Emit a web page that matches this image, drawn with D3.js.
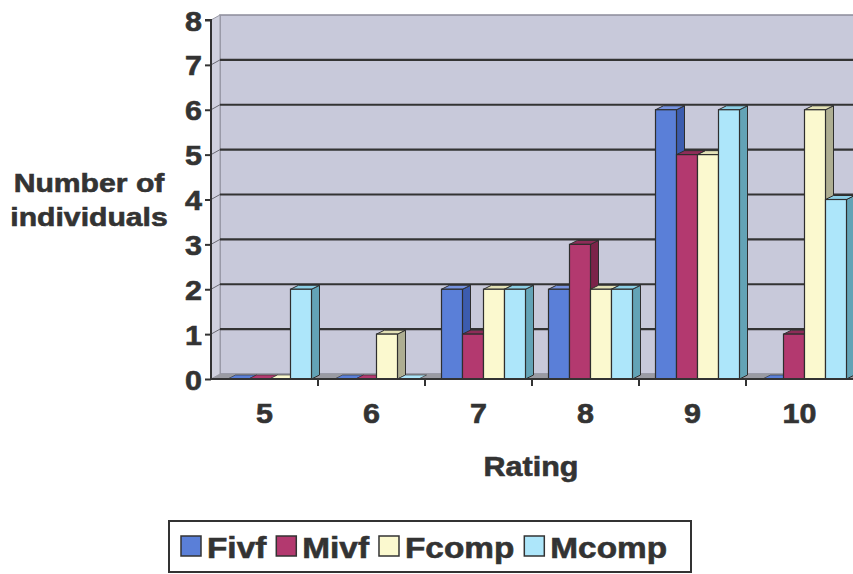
<!DOCTYPE html>
<html>
<head>
<meta charset="utf-8">
<script src="https://cdn.jsdelivr.net/npm/d3@7"></script>
<style>
  html, body { margin: 0; padding: 0; background: #ffffff; }
  svg { display: block; }
  text { font-family: "Liberation Sans", Arial, sans-serif; font-weight: bold; fill: #333333; stroke: #333333; stroke-width: 0.6px; }
</style>
</head>
<body>
<svg id="chart" width="853" height="574"></svg>
<script>
// Ratings and the number of individuals per group
const categories = ["5", "6", "7", "8", "9", "10"];
const seriesNames = ["Fivf", "Mivf", "Fcomp", "Mcomp"];
const fivf  = [0, 0, 2, 2, 6, 0];
const mivf  = [0, 0, 1, 3, 5, 1];
const fcomp = [0, 1, 2, 2, 5, 6];
const mcomp = [2, 0, 2, 2, 6, 4];
const yTicks = [0, 1, 2, 3, 4, 5, 6, 7, 8];

const seriesValues = [fivf, mivf, fcomp, mcomp];

// front / top / side shades of each column colour
const palette = {
  Fivf:  { front: "#5a7fd8", top: "#7693e0", side: "#3c5cae" },
  Mivf:  { front: "#b3396f", top: "#8e2c58", side: "#7c2349" },
  Fcomp: { front: "#fbf9cf", top: "#e3e1b6", side: "#aeae92" },
  Mcomp: { front: "#ade6fa", top: "#8ccfe6", side: "#63a3b6" }
};

const W = 853, H = 574;
const svg = d3.select("#chart");
svg.append("rect").attr("width", W).attr("height", H).attr("fill", "#ffffff");

const plotLeft = 211, plotRight = 853, plotBottom = 379, plotTop = 20;
const wallDx = 9, wallDy = 5;   // depth of the walls
const barDx = 8, barDy = 4;     // depth of each column
const sx = 1.13;                // slightly widened lettering

const y = d3.scaleLinear().domain([0, 8]).range([plotBottom, plotTop]);
const x = d3.scaleBand().domain(categories).range([plotLeft, plotRight]).paddingInner(0).paddingOuter(0);
const groupPad = 16.5;
const inner = d3.scaleBand().domain(seriesNames)
  .range([groupPad, x.bandwidth() - groupPad + 10]).paddingInner(0);

const clip = svg.append("defs").append("clipPath").attr("id", "plotclip");
clip.append("rect").attr("x", 0).attr("y", 0).attr("width", W).attr("height", H);

const plot = svg.append("g").attr("clip-path", "url(#plotclip)");

// back wall
plot.append("rect")
  .attr("x", plotLeft + wallDx).attr("y", y(8) - wallDy)
  .attr("width", plotRight - plotLeft + 20).attr("height", plotBottom - y(8))
  .attr("fill", "#c8c9da").attr("stroke", "#8c8c9a").attr("stroke-width", 1.5);

// side wall
plot.append("polygon")
  .attr("points", [[plotLeft, y(8)], [plotLeft + wallDx, y(8) - wallDy],
                   [plotLeft + wallDx, plotBottom - wallDy], [plotLeft, plotBottom]].join(" "))
  .attr("fill", "#d0d1de").attr("stroke", "#9a9aa6").attr("stroke-width", 1);

// floor
plot.append("polygon")
  .attr("points", [[plotLeft, plotBottom], [plotLeft + wallDx, plotBottom - wallDy],
                   [plotRight + wallDx + 20, plotBottom - wallDy], [plotRight + 20, plotBottom]].join(" "))
  .attr("fill", "#9a9ba3");

// gridlines on the back wall
const grid = plot.append("g");
grid.selectAll("line.g").data(yTicks.filter(d => d > 0 && d < 8)).join("line")
  .attr("x1", plotLeft + wallDx).attr("x2", plotRight + 20)
  .attr("y1", d => y(d) - wallDy).attr("y2", d => y(d) - wallDy)
  .attr("stroke", "#333333").attr("stroke-width", 2.2);
grid.selectAll("line.s").data(yTicks.filter(d => d > 0 && d < 8)).join("line")
  .attr("x1", plotLeft).attr("x2", plotLeft + wallDx)
  .attr("y1", d => y(d)).attr("y2", d => y(d) - wallDy)
  .attr("stroke", "#6a6a72").attr("stroke-width", 1);

// columns, drawn left to right so each front covers the previous side face
const bars = plot.append("g");
categories.forEach((cat, ci) => {
  seriesNames.forEach((s, si) => {
    const v = seriesValues[si][ci];
    const c = palette[s];
    const x0 = x(cat) + inner(s);
    const bw = inner.bandwidth();
    const yt = y(v), yb = y(0);
    const g = bars.append("g");
    if (v > 0) {
      g.append("polygon")
        .attr("points", [[x0 + bw, yt], [x0 + bw + barDx, yt - barDy],
                         [x0 + bw + barDx, yb - barDy], [x0 + bw, yb]].join(" "))
        .attr("fill", c.side).attr("stroke", "#2e2e2e").attr("stroke-width", 1);
    }
    g.append("polygon")
      .attr("points", [[x0, yt], [x0 + barDx, yt - barDy],
                       [x0 + bw + barDx, yt - barDy], [x0 + bw, yt]].join(" "))
      .attr("fill", v > 0 ? c.top : c.front).attr("stroke", "#2e2e2e").attr("stroke-width", v > 0 ? 1 : 0.6);
    if (v > 0) {
      g.append("rect")
        .attr("x", x0).attr("y", yt).attr("width", bw).attr("height", yb - yt)
        .attr("fill", c.front).attr("stroke", "#2e2e2e").attr("stroke-width", 1.2);
    }
  });
});

// y axis
const yAxis = svg.append("g").attr("transform", `translate(${plotLeft},0)`)
  .call(d3.axisLeft(y).tickValues(yTicks).tickFormat(d3.format("d")).tickSize(6).tickPadding(3));
yAxis.select(".domain").attr("stroke", "#333").attr("stroke-width", 2).attr("d", `M-6,${y(8)}H0V${y(0)}`);
yAxis.selectAll(".tick line").attr("stroke", "#333").attr("stroke-width", 2);
yAxis.selectAll(".tick text")
  .attr("x", null).attr("dy", null)
  .attr("transform", "translate(-9,10) scale(" + sx + ",1)")
  .style("font-size", "27px").style("font-family", "Liberation Sans, Arial, sans-serif")
  .style("font-weight", "bold").attr("fill", "#333333");

// x axis: baseline, ticks between categories, labels at centres
const xAxis = svg.append("g").attr("transform", `translate(0,${plotBottom})`);
xAxis.append("line").attr("x1", plotLeft).attr("x2", plotRight + 5)
  .attr("stroke", "#333").attr("stroke-width", 2);
xAxis.selectAll("line.t").data(categories.slice(1)).join("line")
  .attr("x1", d => x(d)).attr("x2", d => x(d)).attr("y1", 0).attr("y2", 7)
  .attr("stroke", "#333").attr("stroke-width", 2);
xAxis.selectAll("text").data(categories).join("text")
  .attr("text-anchor", "middle")
  .attr("transform", d => `translate(${x(d) + x.bandwidth() / 2},${44}) scale(${sx},1)`)
  .style("font-size", "27px")
  .text(d => d);

// axis titles
svg.append("text").attr("text-anchor", "middle")
  .attr("transform", `translate(531,476) scale(${sx},1)`)
  .style("font-size", "27px").text("Rating");
const yTitle = svg.append("text").attr("text-anchor", "middle").style("font-size", "26px");
yTitle.append("tspan").attr("x", 0).attr("y", 0).text("Number of");
yTitle.append("tspan").attr("x", 0).attr("y", 34).text("individuals");
yTitle.attr("transform", `translate(89,192) scale(1.16,1)`);

// legend
const legend = svg.append("g");
const lgX = 169, lgY = 521, lgW = 522, lgH = 51;
legend.append("rect").attr("x", lgX).attr("y", lgY).attr("width", lgW).attr("height", lgH)
  .attr("fill", "#ffffff").attr("stroke", "#333").attr("stroke-width", 2);
let cx = 181;
seriesNames.forEach(s => {
  legend.append("rect").attr("x", cx).attr("y", 536).attr("width", 20).attr("height", 20)
    .attr("fill", palette[s].front).attr("stroke", "#333").attr("stroke-width", 1.5);
  const t = legend.append("text").attr("transform", `translate(${cx + 26},558) scale(1.15,1)`)
    .style("font-size", "29px").text(s);
  const w = t.node().getComputedTextLength() * 1.15;
  cx += 26 + w + 10;
});
</script>
</body>
</html>
